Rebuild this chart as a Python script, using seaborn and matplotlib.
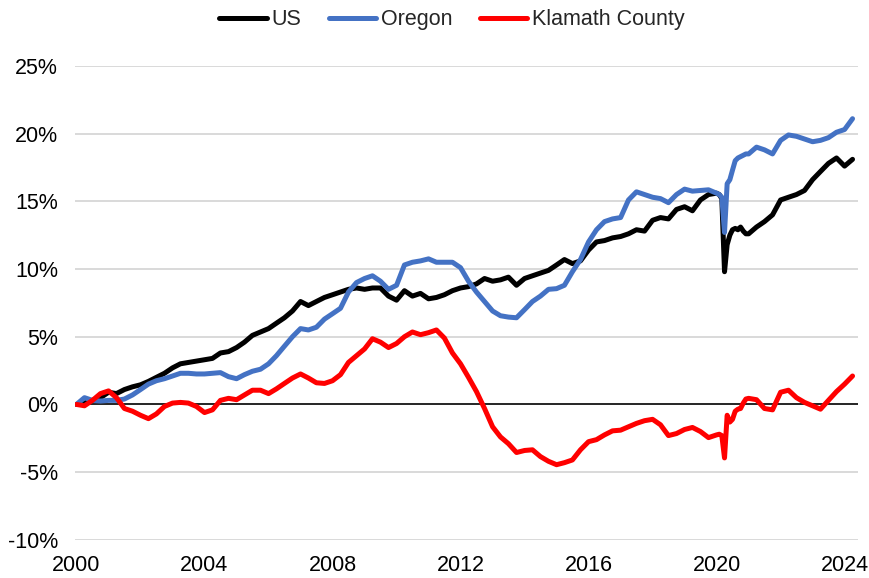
import matplotlib
matplotlib.use("Agg")
import matplotlib.pyplot as plt
import matplotlib.dates as mdates
from matplotlib.ticker import FuncFormatter
import numpy as np
import pandas as pd
import seaborn as sns

sns.set_style("white")
plt.rcParams['font.family'] = ['Liberation Sans', 'DejaVu Sans']

# quarterly 2000-2019, monthly through 2020 (covid dip), quarterly again after
dates = (list(pd.date_range('2000-01-01', '2019-10-01', freq='QS'))
         + list(pd.date_range('2020-01-01', '2020-12-01', freq='MS'))
         + list(pd.date_range('2021-01-01', '2024-04-01', freq='QS')))

# cumulative job growth since 2000, %
us = [0.0, 0.1, 0.3, 0.5,
      0.9, 0.8, 1.1, 1.3,
      1.45, 1.7, 2.0, 2.3,
      2.7, 3.0, 3.1, 3.2,
      3.3, 3.4, 3.8, 3.9,
      4.2, 4.6, 5.1, 5.35,
      5.6, 6.0, 6.4, 6.9,
      7.6, 7.3, 7.6, 7.9,
      8.1, 8.3, 8.5, 8.6,
      8.5, 8.6, 8.6, 8.0,
      7.7, 8.4, 8.0, 8.2,
      7.8, 7.9, 8.1, 8.4,
      8.6, 8.7, 8.9, 9.3,
      9.1, 9.2, 9.4, 8.8,
      9.3, 9.5, 9.7, 9.9,
      10.3, 10.7, 10.4, 10.6,
      11.4, 12.0, 12.1, 12.3,
      12.4, 12.6, 12.9, 12.8,
      13.6, 13.8, 13.7, 14.4,
      14.6, 14.3, 15.1, 15.5,
      15.6, 15.5, 15.2, 9.8, 11.8, 12.5, 12.9, 13.0, 12.9, 13.1, 12.8, 12.6,
      12.6, 13.1, 13.5, 14.0,
      15.1, 15.3, 15.5, 15.8,
      16.6, 17.2, 17.8, 18.2,
      17.6, 18.1]

oregon = [0.0, 0.5, 0.3, 0.25,
          0.3, 0.3, 0.4, 0.7,
          1.1, 1.5, 1.75, 1.9,
          2.1, 2.3, 2.3, 2.25,
          2.25, 2.3, 2.35, 2.05,
          1.9, 2.2, 2.45, 2.6,
          3.0, 3.6, 4.3, 5.0,
          5.6, 5.5, 5.7, 6.3,
          6.7, 7.1, 8.3, 9.0,
          9.3, 9.5, 9.1, 8.5,
          8.8, 10.3, 10.5, 10.6,
          10.75, 10.5, 10.5, 10.5,
          10.1, 9.1, 8.3, 7.6,
          6.9, 6.55, 6.45, 6.4,
          7.0, 7.6, 8.0, 8.5,
          8.55, 8.8, 9.8, 10.7,
          12.0, 12.9, 13.5, 13.7,
          13.8, 15.1, 15.7, 15.5,
          15.3, 15.2, 14.9, 15.5,
          15.9, 15.75, 15.8, 15.85,
          15.6, 15.5, 15.3, 12.7, 16.3, 16.6, 17.3, 18.0, 18.2, 18.3, 18.4, 18.5,
          18.5, 19.0, 18.8, 18.5,
          19.5, 19.9, 19.8, 19.6,
          19.4, 19.5, 19.7, 20.1,
          20.3, 21.1]

klamath = [0.0, -0.1, 0.3, 0.8,
           1.0, 0.5, -0.3, -0.5,
           -0.8, -1.05, -0.7, -0.15,
           0.1, 0.15, 0.1, -0.15,
           -0.6, -0.4, 0.3, 0.45,
           0.35, 0.7, 1.05, 1.05,
           0.8, 1.15, 1.55, 1.95,
           2.25, 1.95, 1.6, 1.55,
           1.75, 2.2, 3.1, 3.6,
           4.1, 4.85, 4.6, 4.2,
           4.5, 5.0, 5.35, 5.15,
           5.3, 5.5, 4.9, 3.8,
           3.0, 2.0, 0.95, -0.3,
           -1.65, -2.4, -2.9, -3.55,
           -3.4, -3.35, -3.85, -4.2,
           -4.45, -4.3, -4.1, -3.35,
           -2.75, -2.6, -2.25, -1.95,
           -1.9, -1.65, -1.4, -1.2,
           -1.1, -1.5, -2.3, -2.15,
           -1.85, -1.7, -2.0, -2.45,
           -2.25, -2.2, -2.3, -3.95, -0.8, -1.3, -1.1, -0.5, -0.35, -0.3, 0.1, 0.4,
           0.45, 0.35, -0.3, -0.4,
           0.9, 1.05, 0.5, 0.15,
           -0.1, -0.35, 0.3, 0.95,
           1.5, 2.1]

names = ['US', 'Oregon', 'Klamath County']
colors = ['#000000', '#4472C4', '#FF0000']

df = pd.concat([pd.DataFrame({'date': dates, 'value': v, 'series': n})
                for n, v in zip(names, [us, oregon, klamath])])

fig = plt.figure(figsize=(8.69, 5.78), dpi=100)
ax = fig.add_axes([0.086, 0.066, 0.901, 0.820])

for _y in range(-10, 30, 5):
    if _y != 0:
        ax.axhline(_y, color='#D9D9D9', lw=1.4, zorder=0)
ax.axhline(0, color='black', lw=1.2, zorder=1)

sns.lineplot(data=df, x='date', y='value', hue='series', hue_order=names,
             palette=dict(zip(names, colors)), linewidth=3.6, ax=ax,
             legend=True, zorder=3, solid_capstyle='round', solid_joinstyle='round')

ax.set_ylim(-10, 25)
ax.set_yticks(range(-10, 30, 5))
ax.yaxis.set_major_formatter(FuncFormatter(lambda v, p: f"{v:.0f}%"))
ax.set_xlim(pd.Timestamp('1999-12-12'), pd.Timestamp('2024-05-30'))
ax.set_xticks([pd.Timestamp(f'{y}-01-01') for y in range(2000, 2025, 4)])
ax.xaxis.set_major_formatter(mdates.DateFormatter('%Y'))
ax.tick_params(axis='both', length=0, labelsize=15.5, colors='black')
ax.tick_params(axis='y', pad=12)
ax.tick_params(axis='x', pad=11)
ax.set_xlabel('')
ax.set_ylabel('')
for s in ax.spines.values():
    s.set_visible(False)

handles, labels = ax.get_legend_handles_labels()
for h in handles:
    h.set_solid_capstyle('round')
ax.legend(handles, labels, loc='center', bbox_to_anchor=(0.52, 0.966),
          bbox_transform=fig.transFigure, ncol=3, frameon=False, fontsize=15.5,
          handlelength=2.2, handletextpad=0.2, columnspacing=1.3)

fig.savefig('out.png', dpi=100)
